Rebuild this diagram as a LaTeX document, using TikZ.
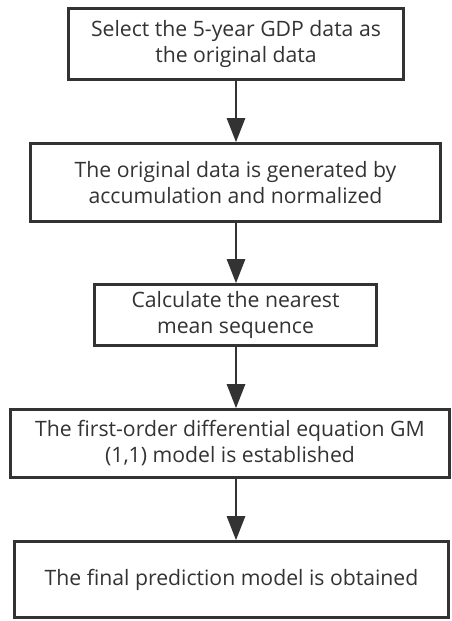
\documentclass[tikz,border=0pt]{standalone}
\usepackage{fontspec}
\setmainfont{Open Sans}
\usetikzlibrary{arrows.meta}
\definecolor{ink}{HTML}{333333}
\begin{document}
\begin{tikzpicture}[x=1pt,y=-1pt,
  stepbox/.style={draw=ink,line width=2.6pt,fill=white,inner sep=0pt,align=center,
    font=\fontsize{21.2}{26}\selectfont,text=ink},
  flow/.style={draw=ink,line width=2.6pt,-{Triangle[width=18pt,length=24pt]}}]
\useasboundingbox (0,0) rectangle (452,621);
\node[stepbox,minimum width=335,minimum height=71] (b1) at (236,44)
  {Select the 5-year GDP data as\\the original data};
\node[stepbox,minimum width=410,minimum height=78] (b2) at (235.5,182.5)
  {The original data is generated by\\accumulation and normalized};
\node[stepbox,minimum width=282,minimum height=61] (b3) at (235.5,315)
  {Calculate the nearest\\mean sequence};
\node[stepbox,minimum width=439,minimum height=68] (b4) at (230,443.5)
  {The first-order differential equation GM\\(1,1) model is established};
\node[stepbox,minimum width=434,minimum height=76] (b5) at (231.5,579.5)
  {The final prediction model is obtained};
\draw[flow] (b1.south) -- (b1.south |- b2.north);
\draw[flow] (b1.south |- b2.south) -- (b1.south |- b3.north);
\draw[flow] (b1.south |- b3.south) -- (b1.south |- b4.north);
\draw[flow] (b1.south |- b4.south) -- (b1.south |- b5.north);
\end{tikzpicture}
\end{document}
